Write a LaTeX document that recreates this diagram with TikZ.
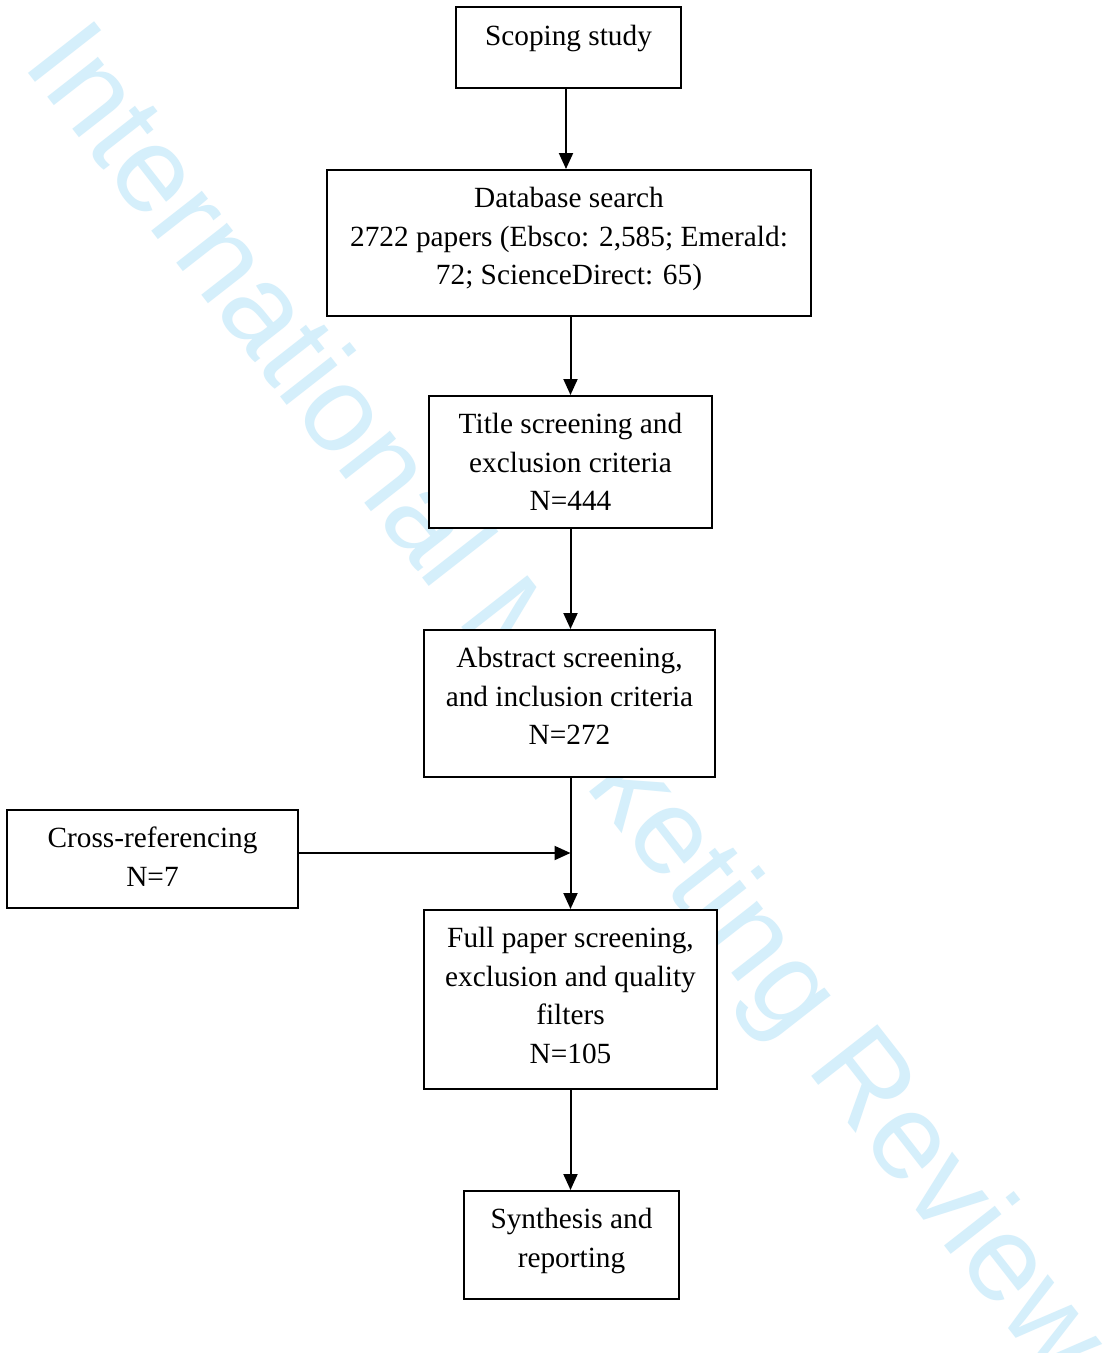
\documentclass[tikz,border=0pt]{standalone}
\usepackage{fontspec}
\setmainfont{Liberation Serif}
\newfontfamily\wmfont{Liberation Sans}
\usetikzlibrary{arrows.meta}
\definecolor{wmblue}{RGB}{213,239,251}
\begin{document}
\begin{tikzpicture}[x=1pt,y=-1pt,
  box/.style={draw=black, fill=white, line width=2pt, inner sep=0pt},
  txt/.style={align=center, inner sep=0pt, anchor=north, font=\fontsize{29.3}{38.8}\selectfont},
  arr/.style={line width=2pt, -{Triangle[width=14pt,length=16pt]}}]
\fill[white] (0,0) rectangle (1110,1353);
\useasboundingbox (0,0) rectangle (1110,1353);

% watermark
\node[font=\wmfont\fontsize{122}{122}\selectfont, text=wmblue, rotate=-52,
      anchor=base west, inner sep=0pt] (wm) at (21,64) {International Marketing Review};

% boxes
\node[box, minimum width=225pt, minimum height=81pt]  (scope) at (568.5,47.5) {};
\node[box, minimum width=484pt, minimum height=146pt] (db)    at (569,243) {};
\node[box, minimum width=283pt, minimum height=132pt] (title) at (570.5,462) {};
\node[box, minimum width=291pt, minimum height=147pt] (abs)   at (569.5,703.5) {};
\node[box, minimum width=291pt, minimum height=98pt]  (cross) at (152.5,859) {};
\node[box, minimum width=293pt, minimum height=179pt] (full)  at (570.5,999.5) {};
\node[box, minimum width=215pt, minimum height=108pt] (syn)   at (571.5,1245) {};

% texts
\node[txt] (tscope) at ([yshift=-12pt]scope.north) {\strut Scoping study};
\node[txt] (tdb)    at ([yshift=-11pt]db.north) {\strut Database search\\2722 papers (Ebsco: 2,585; Emerald:\\72; ScienceDirect: 65)};
\node[txt] (ttitle) at ([yshift=-11pt]title.north) {\strut Title screening and\\exclusion criteria\\N=444};
\node[txt] (tabs)   at ([yshift=-11pt]abs.north) {\strut Abstract screening,\\and inclusion criteria\\N=272};
\node[txt] (tcross) at ([yshift=-11pt]cross.north) {\strut Cross-referencing\\N=7};
\node[txt] (tfull)  at ([yshift=-11pt]full.north) {\strut Full paper screening,\\exclusion and quality\\filters\\N=105};
\node[txt] (tsyn)   at ([yshift=-11pt]syn.north) {\strut Synthesis and\\reporting};

% connector axes
\coordinate (ax1) at (566,0);
\coordinate (ax) at (570.5,0);
\coordinate (j) at (570.5,853);

\draw[arr] (scope.south -| ax1) -- (db.north -| ax1);
\draw[arr] (db.south -| ax) -- (title.north -| ax);
\draw[arr] (title.south -| ax) -- (abs.north -| ax);
\draw[arr] (abs.south -| ax) -- (full.north -| ax);
\draw[arr] (cross.east |- j) -- (j);
\draw[arr] (full.south -| ax) -- (syn.north -| ax);
\end{tikzpicture}
\end{document}
